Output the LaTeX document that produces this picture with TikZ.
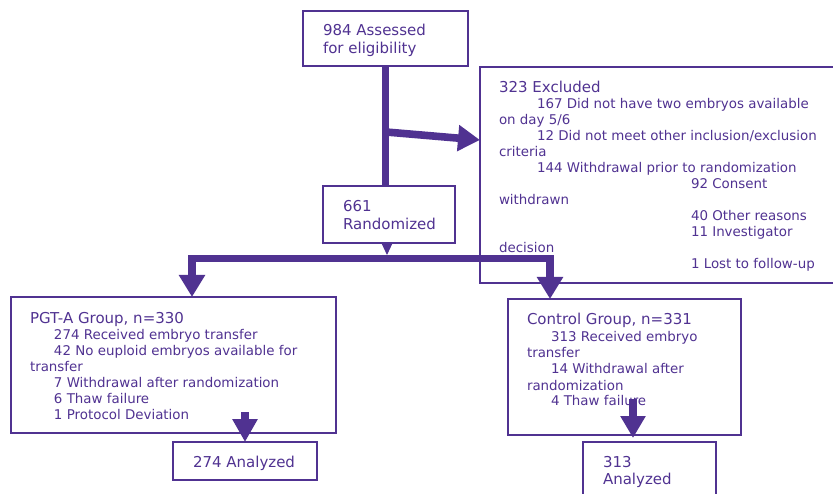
\documentclass[tikz,border=0pt]{standalone}
\usepackage{fontspec}
\setmainfont{DejaVu Sans}
\usetikzlibrary{arrows.meta}
\definecolor{pur}{RGB}{80,50,145}
\newcommand{\hfnt}{\fontsize{15}{17.5}\selectfont}
\newcommand{\bfnt}{\fontsize{13.4}{16}\selectfont}
\tikzset{
  box/.style={draw=pur, line width=1.8pt, fill=none, inner sep=0pt, outer sep=0pt, anchor=north west},
  txt/.style={text=pur, inner sep=0pt, outer sep=0pt, anchor=base west},
  thickline/.style={draw=pur, line width=7.6pt, line join=miter},
  bigtip/.tip={Triangle[width=25pt,length=22pt]},
}
\begin{document}
\begin{tikzpicture}[x=1pt,y=-1pt]
\clip (0,0) rectangle (833,494);
% boxes
\node[box, minimum width=165pt, minimum height=55pt] (top) at (303,11) {};
\node[box, minimum width=365pt, minimum height=216pt] (excl) at (480,67) {};
\node[box, minimum width=132pt, minimum height=57pt] (rand) at (323,186) {};
\node[box, minimum width=325pt, minimum height=136pt] (pgt) at (11,297) {};
\node[box, minimum width=233pt, minimum height=136pt] (ctrl) at (508,299) {};
\node[box, minimum width=144pt, minimum height=38pt] (an1) at (173,442) {};
\node[box, minimum width=133pt, minimum height=70pt] (an2) at (583,442) {};
% texts
\node[txt] (topT) at (323,36) {\hfnt\begin{tabular}[t]{@{}l@{}}984 Assessed\\for eligibility\end{tabular}};
\node[txt] (exclH) at (499,92.5) {\hfnt 323 Excluded};
\node[txt] (exclT) at (499,109) {\bfnt\begin{tabular}[t]{@{}l@{}}
\hspace*{38pt}167 Did not have two embryos available\\
on day 5/6\\
\hspace*{38pt}12 Did not meet other inclusion/exclusion\\
criteria\\
\hspace*{38pt}144 Withdrawal prior to randomization\\
\hspace*{192pt}92 Consent\\
withdrawn\\
\hspace*{192pt}40 Other reasons\\
\hspace*{192pt}11 Investigator\\
decision\\
\hspace*{192pt}1 Lost to follow-up\end{tabular}};
\node[txt] (randT) at (343,212) {\hfnt\begin{tabular}[t]{@{}l@{}}661\\Randomized\end{tabular}};
\node[txt] (pgtH) at (30,323.5) {\hfnt PGT-A Group, n=330};
\node[txt] (pgtT) at (30,339.5) {\bfnt\begin{tabular}[t]{@{}l@{}}
\hspace*{24pt}274 Received embryo transfer\\
\hspace*{24pt}42 No euploid embryos available for\\
transfer\\
\hspace*{24pt}7 Withdrawal after randomization\\
\hspace*{24pt}6 Thaw failure\\
\hspace*{24pt}1 Protocol Deviation\end{tabular}};
\node[txt] (ctrlH) at (527,325) {\hfnt Control Group, n=331};
\node[txt] (ctrlT) at (527,342) {\bfnt\begin{tabular}[t]{@{}l@{}}
\hspace*{24pt}313 Received embryo\\
transfer\\
\hspace*{24pt}14 Withdrawal after\\
randomization\\
\hspace*{24pt}4 Thaw failure\end{tabular}};
\node[txt] (an1T) at (193,467) {\hfnt 274 Analyzed};
\node[txt] (an2T) at (603,467) {\hfnt\begin{tabular}[t]{@{}l@{}}313\\Analyzed\end{tabular}};
% coordinates
\coordinate (br) at (386,132);
\path (excl.west) ++(0,-35) coordinate (exTip);
\coordinate (randtip) at (387,255);
\coordinate (barL) at (192,258.5);
\coordinate (barR) at (550,258.5);
\coordinate (pgtA) at (245,412);
\coordinate (ctrlA) at (633,399);
% connectors
\draw[thickline] (top.south) -- (top.south |- rand.north);
\draw[thickline, -{bigtip}] (br) -- (exTip);
\draw[pur, line width=1pt, -{Triangle[width=11pt,length=12pt]}] (rand.south -| randtip) -- (randtip);
\draw[thickline, {bigtip}-{bigtip}] (pgt.north -| barL) -- (barL) -- (barR) -- (ctrl.north -| barR);
\draw[thickline, -{Triangle[width=24pt,length=23pt]}] (pgtA) -- (pgtA |- an1.north);
\draw[thickline, -{Triangle[width=24pt,length=22pt]}, shorten >=4pt] (ctrlA) -- (ctrlA |- an2.north);
\end{tikzpicture}
\end{document}
